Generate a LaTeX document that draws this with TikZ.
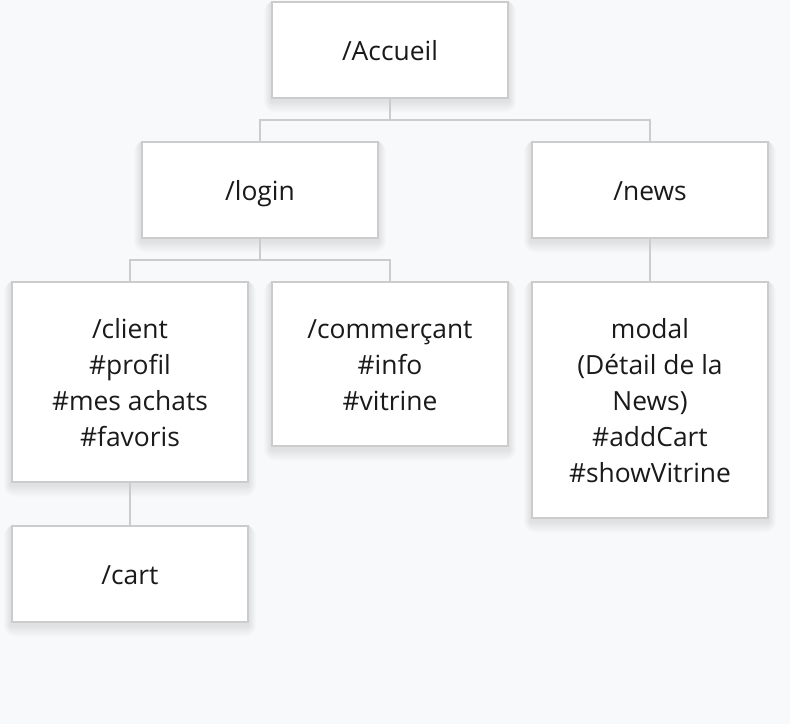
\documentclass[tikz,border=0pt]{standalone}
\usepackage{fontspec}
\setmainfont{Open Sans}
\usetikzlibrary{backgrounds}
\definecolor{bg}{HTML}{F8F9FB}
\definecolor{edge}{HTML}{CCCCCC}
\definecolor{ink}{HTML}{1A1A1A}
\newcommand{\ls}{\rule[-7.7pt]{0pt}{35.9pt}}
\begin{document}
\begin{tikzpicture}[x=1pt,y=-1pt,
  pagebox/.style={draw=edge, line width=2pt, fill=white, minimum width=236pt,
    minimum height=#1, align=center, text=ink, inner sep=0pt,
    font=\fontsize{26.4}{36}\selectfont},
  pagebox/.default=96pt,
  link/.style={draw=edge, line width=2pt},
  softshadow/.style={fill=black, opacity=0.0065, rounded corners=#1}]
\useasboundingbox (0,0) rectangle (790,724);
\node[pagebox] (acc) at (390,50) {\ls/Accueil};
\node[pagebox] (login) at (260,190) {\ls/login};
\node[pagebox] (news) at (650,190) {\ls/news};
\node[pagebox=200pt] (client) at (130,382) {\ls/client\\\ls\#profil\\\ls\#mes achats\\\ls\#favoris};
\node[pagebox=164pt] (comm) at (390,364) {\ls/commerçant\\\ls\#info\\\ls\#vitrine};
\node[pagebox=236pt] (modal) at (650,400) {\ls modal\\\ls(Détail de la\\\ls News)\\\ls\#addCart\\\ls\#showVitrine};
\node[pagebox] (cart) at (130,574) {\ls/cart};
\draw[link] (acc.south) -- ++(0,21) -| (login.north);
\draw[link] (acc.south) -- ++(0,21) -| (news.north);
\draw[link] (login.south) -- ++(0,21) -| (client.north);
\draw[link] (login.south) -- ++(0,21) -| (comm.north);
\draw[link] (news.south) -- (modal.north);
\draw[link] (client.south) -- (cart.north);
\begin{pgfonlayer}{background}
\fill[bg] (0,0) rectangle (790,724);
\foreach \n in {acc,login,news,client,comm,modal,cart}{
  \foreach \k in {1,...,12}{
    \fill[softshadow=\k pt] ([shift={(-0.6*\k,0)}]\n.north west) rectangle ([shift={(0.6*\k,\k+2)}]\n.south east);
  }
}
\end{pgfonlayer}
\end{tikzpicture}
\end{document}
